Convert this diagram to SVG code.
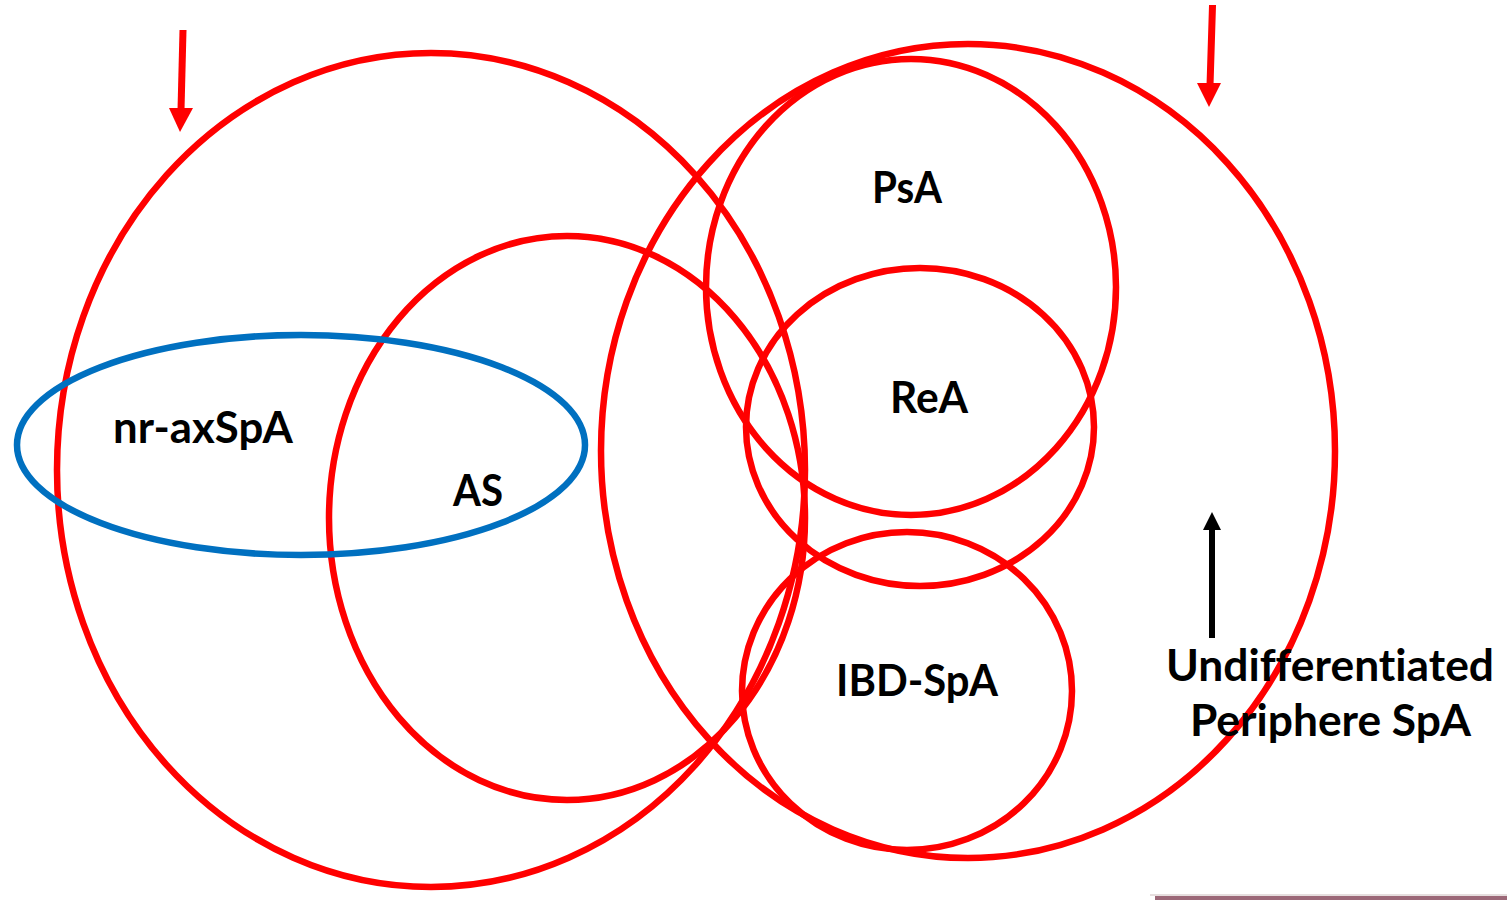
<svg xmlns="http://www.w3.org/2000/svg" width="1507" height="900" viewBox="0 0 1507 900">
<style>
.red{fill:none;stroke:#ff0000;stroke-width:6.5}
.blue{fill:none;stroke:#0070c0;stroke-width:6.5}
.lbl{font-family:"Lato","Open Sans","Liberation Sans",sans-serif;font-weight:700;font-size:43px;fill:#000;font-variant-ligatures:none}
</style>
<rect width="1507" height="900" fill="#ffffff"/>
<g id="axSpA-outer"><ellipse class="red" cx="431" cy="470" rx="374" ry="417"/></g>
<g id="AS"><ellipse class="red" cx="567" cy="518" rx="238" ry="282"/><text class="lbl" x="453" y="506" textLength="50" lengthAdjust="spacingAndGlyphs">AS</text></g>
<g id="nr-axSpA"><ellipse class="blue" cx="301" cy="445" rx="284" ry="110"/><text class="lbl" x="113" y="443" textLength="180" lengthAdjust="spacingAndGlyphs">nr-axSpA</text></g>
<g id="pSpA-outer"><ellipse class="red" cx="968" cy="451" rx="367" ry="407"/></g>
<g id="PsA"><ellipse class="red" cx="911" cy="287" rx="205" ry="228"/><text class="lbl" x="872" y="203" textLength="70" lengthAdjust="spacingAndGlyphs">PsA</text></g>
<g id="ReA"><ellipse class="red" cx="920" cy="427" rx="174" ry="159"/><text class="lbl" x="890" y="413" textLength="78" lengthAdjust="spacingAndGlyphs">ReA</text></g>
<g id="IBD-SpA"><ellipse class="red" cx="907" cy="691" rx="165" ry="159"/><text class="lbl" x="836" y="696" textLength="162" lengthAdjust="spacingAndGlyphs">IBD-SpA</text></g>
<g id="undiff"><text class="lbl" x="1166" y="681" textLength="328" lengthAdjust="spacingAndGlyphs">Undifferentiated</text><text class="lbl" x="1190" y="736" textLength="281" lengthAdjust="spacingAndGlyphs">Periphere SpA</text></g>
<g id="connectors">
<polygon points="179.5,30 186.5,30 184.5,110 177.5,110" fill="#ff0000"/>
<polygon points="169,108 193,108 180,132" fill="#ff0000"/>
<polygon points="1209,5 1216,5 1213.5,85 1206.5,85" fill="#ff0000"/>
<polygon points="1197,83 1221,83 1209,107" fill="#ff0000"/>
<line x1="1212" y1="638" x2="1212" y2="526" stroke="#000" stroke-width="6"/>
<polygon points="1203,530 1221,530 1212,512" fill="#000"/>
</g>
<rect x="1150" y="894" width="357" height="2" fill="#e6dede"/>
<rect x="1155" y="896" width="352" height="4" fill="#9c6878"/>
</svg>
